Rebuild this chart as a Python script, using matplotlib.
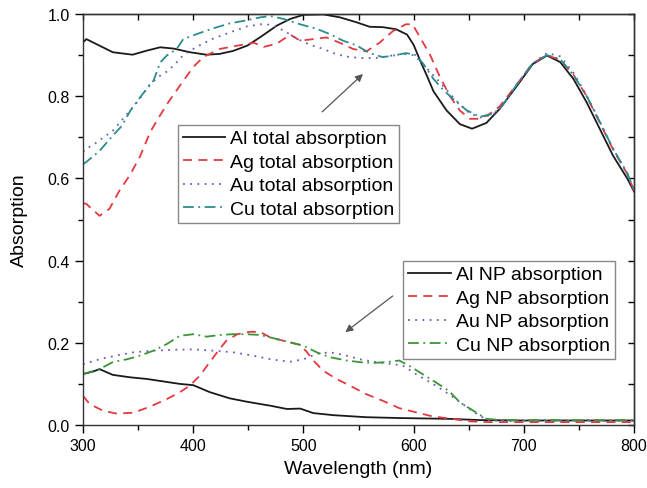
import matplotlib
matplotlib.use("Agg")
import matplotlib.pyplot as plt
from matplotlib.ticker import MultipleLocator, FormatStrFormatter

plt.rcParams['font.family'] = ['Liberation Sans', 'DejaVu Sans']

# total absorption spectra (wavelength in nm, absorption 0..1)
al_total_wl = [300, 303, 315, 327, 345, 358, 370, 382, 397, 412, 424, 436, 449, 461, 476, 488,
               500, 518, 533, 548, 560, 572, 584, 594, 600, 606, 612, 618, 630, 642, 653, 666,
               678, 694, 708, 721, 733, 745, 757, 769, 781, 794, 800]
al_total = [0.931, 0.939, 0.923, 0.907, 0.901, 0.911, 0.919, 0.916, 0.907, 0.901, 0.903, 0.910,
            0.923, 0.944, 0.972, 0.988, 0.998, 0.999, 0.992, 0.980, 0.969, 0.968, 0.963, 0.950,
            0.925, 0.886, 0.850, 0.812, 0.765, 0.732, 0.721, 0.735, 0.769, 0.826, 0.878, 0.899,
            0.883, 0.842, 0.785, 0.720, 0.655, 0.599, 0.568]

ag_total_wl = [300, 303, 315, 324, 333, 343, 352, 361, 368, 376, 388, 400, 409, 424, 440, 455,
               464, 476, 488, 497, 506, 521, 533, 545, 557, 569, 581, 593, 599, 605, 615, 624,
               633, 642, 651, 660, 669, 678, 694, 708, 721, 733, 745, 757, 769, 781, 794, 800]
ag_total = [0.540, 0.538, 0.509, 0.526, 0.570, 0.610, 0.655, 0.713, 0.745, 0.780, 0.826, 0.871,
            0.895, 0.915, 0.923, 0.930, 0.920, 0.928, 0.950, 0.935, 0.938, 0.943, 0.930, 0.915,
            0.909, 0.930, 0.958, 0.975, 0.975, 0.947, 0.900, 0.846, 0.800, 0.765, 0.745, 0.745,
            0.757, 0.775, 0.830, 0.880, 0.900, 0.888, 0.852, 0.800, 0.735, 0.670, 0.610, 0.570]

au_total_wl = [300, 303, 311, 327, 349, 361, 370, 376, 382, 391, 403, 418, 433, 449, 461, 470,
               482, 494, 506, 518, 530, 542, 554, 566, 578, 590, 600, 606, 612, 620, 630, 640,
               650, 660, 672, 680, 694, 708, 721, 733, 745, 757, 769, 781, 794, 800]
au_total = [0.665, 0.672, 0.685, 0.716, 0.785, 0.830, 0.850, 0.860, 0.874, 0.900, 0.920, 0.940,
            0.955, 0.970, 0.975, 0.974, 0.960, 0.940, 0.925, 0.915, 0.902, 0.895, 0.893, 0.893,
            0.898, 0.903, 0.900, 0.885, 0.868, 0.845, 0.815, 0.785, 0.760, 0.748, 0.755, 0.775,
            0.830, 0.880, 0.905, 0.897, 0.857, 0.802, 0.738, 0.672, 0.610, 0.570]

cu_total_wl = [300, 303, 315, 327, 335, 343, 354, 364, 370, 376, 385, 391, 403, 418, 433, 449,
               461, 470, 482, 497, 512, 524, 536, 548, 560, 572, 584, 593, 602, 609, 618, 627,
               636, 648, 660, 672, 680, 694, 708, 721, 733, 745, 757, 769, 781, 794, 800]
cu_total = [0.635, 0.640, 0.667, 0.704, 0.727, 0.765, 0.805, 0.838, 0.882, 0.899, 0.915, 0.939,
            0.951, 0.965, 0.977, 0.985, 0.992, 0.995, 0.988, 0.975, 0.964, 0.951, 0.935, 0.924,
            0.905, 0.895, 0.900, 0.905, 0.900, 0.878, 0.842, 0.815, 0.793, 0.766, 0.750, 0.757,
            0.775, 0.830, 0.880, 0.900, 0.890, 0.852, 0.800, 0.737, 0.672, 0.612, 0.572]

# nanoparticle absorption spectra
al_np_wl = [300, 309, 315, 327, 343, 358, 373, 388, 400, 415, 433, 448, 461, 470, 485, 497,
            509, 527, 557, 587, 632, 660, 700, 800]
al_np = [0.124, 0.130, 0.136, 0.122, 0.116, 0.112, 0.106, 0.100, 0.097, 0.080, 0.065, 0.057,
         0.051, 0.047, 0.039, 0.040, 0.029, 0.024, 0.019, 0.017, 0.015, 0.012, 0.011, 0.011]

ag_np_wl = [300, 306, 318, 330, 346, 361, 376, 388, 397, 406, 415, 424, 430, 440, 452, 461,
            470, 482, 497, 503, 509, 518, 530, 542, 557, 572, 587, 602, 617, 632, 650, 670, 800]
ag_np = [0.071, 0.051, 0.035, 0.028, 0.030, 0.045, 0.063, 0.080, 0.096, 0.120, 0.153, 0.185,
         0.205, 0.221, 0.227, 0.226, 0.213, 0.205, 0.195, 0.178, 0.157, 0.132, 0.112, 0.096,
         0.075, 0.059, 0.041, 0.031, 0.021, 0.016, 0.009, 0.007, 0.007]

au_np_wl = [300, 315, 330, 346, 364, 382, 400, 418, 436, 454, 470, 488, 500, 512, 524, 536,
            551, 566, 581, 590, 602, 620, 632, 645, 660, 668, 680, 800]
au_np = [0.148, 0.160, 0.169, 0.177, 0.181, 0.183, 0.184, 0.181, 0.177, 0.169, 0.160, 0.154,
         0.160, 0.173, 0.177, 0.171, 0.160, 0.153, 0.148, 0.145, 0.124, 0.096, 0.075, 0.050,
         0.022, 0.012, 0.010, 0.010]

cu_np_wl = [300, 315, 327, 340, 352, 364, 376, 388, 400, 412, 424, 436, 448, 461, 470, 488,
            500, 512, 524, 539, 551, 563, 575, 587, 596, 608, 620, 632, 642, 654, 666, 680, 800]
cu_np = [0.124, 0.136, 0.153, 0.160, 0.169, 0.181, 0.197, 0.217, 0.221, 0.215, 0.219, 0.221,
         0.221, 0.219, 0.213, 0.201, 0.193, 0.177, 0.165, 0.157, 0.153, 0.151, 0.153, 0.157,
         0.144, 0.124, 0.104, 0.083, 0.055, 0.035, 0.015, 0.012, 0.012]

BLACK = '#1a1a1a'
RED = '#e23a40'
PURPLE = '#6a5cb8'
TEAL = '#2b8c8c'
GREEN = '#3a953a'

DASH = (0, (5, 3.5))
DOT = (0, (1, 3))
DASHDOT = (0, (6, 2.5, 1, 2.5))

fig, ax = plt.subplots(figsize=(6.47, 4.89), dpi=100)
fig.subplots_adjust(left=0.1283, right=0.98, top=0.9693, bottom=0.1288)

lw = 1.3
h1, = ax.plot(al_total_wl, al_total, color=BLACK, lw=lw, label='Al total absorption')
h2, = ax.plot(ag_total_wl, ag_total, color=RED, lw=lw, ls=DASH, label='Ag total absorption')
h3, = ax.plot(au_total_wl, au_total, color=PURPLE, lw=lw, ls=DOT, label='Au total absorption')
h4, = ax.plot(cu_total_wl, cu_total, color=TEAL, lw=lw, ls=DASHDOT, label='Cu total absorption')

g1, = ax.plot(al_np_wl, al_np, color=BLACK, lw=lw, label='Al NP absorption')
g2, = ax.plot(ag_np_wl, ag_np, color=RED, lw=lw, ls=DASH, label='Ag NP absorption')
g3, = ax.plot(au_np_wl, au_np, color=PURPLE, lw=lw, ls=DOT, label='Au NP absorption')
g4, = ax.plot(cu_np_wl, cu_np, color=GREEN, lw=lw, ls=DASHDOT, label='Cu NP absorption')

ax.set_xlim(300, 800)
ax.set_ylim(0, 1.0)
ax.xaxis.set_major_locator(MultipleLocator(100))
ax.xaxis.set_minor_locator(MultipleLocator(50))
ax.yaxis.set_major_locator(MultipleLocator(0.2))
ax.yaxis.set_minor_locator(MultipleLocator(0.1))
ax.yaxis.set_major_formatter(FormatStrFormatter('%.1f'))
ax.tick_params(which='major', direction='out', length=6, width=1, labelsize=11.5)
ax.tick_params(which='minor', direction='out', length=3.5, width=1)

# mirrored ticks on top and right, pointing inward, no labels
top = ax.secondary_xaxis('top')
top.xaxis.set_major_locator(MultipleLocator(50))
top.tick_params(direction='in', length=4, width=1, labeltop=False)
right = ax.secondary_yaxis('right')
right.yaxis.set_major_locator(MultipleLocator(0.1))
right.tick_params(direction='in', length=4, width=1, labelright=False)

for s in list(ax.spines.values()) + [top.spines['top'], right.spines['right']]:
    s.set_linewidth(1.0)
    s.set_color('#333333')

ax.set_xlabel('Wavelength (nm)', fontsize=14, labelpad=5)
ax.set_ylabel('Absorption', fontsize=14, labelpad=14)

leg_kw = dict(loc='upper left', fontsize=14, frameon=True, fancybox=False,
              edgecolor='#888888', framealpha=1, handlelength=2.2, handletextpad=0.25,
              labelspacing=0.3, borderpad=0.25, borderaxespad=0)
leg1 = ax.legend(handles=[h1, h2, h3, h4], bbox_to_anchor=(0.172, 0.730), **leg_kw)
ax.add_artist(leg1)
ax.legend(handles=[g1, g2, g3, g4], bbox_to_anchor=(0.581, 0.399), **leg_kw)

arrow = dict(arrowstyle='-|>', color='#555555', lw=0.9, mutation_scale=11,
             shrinkA=0, shrinkB=0)
ax.annotate('', xy=(554, 0.854), xytext=(517, 0.762), arrowprops=arrow)
ax.annotate('', xy=(538, 0.226), xytext=(581, 0.314), arrowprops=arrow)

fig.savefig('out.png', dpi=100)
